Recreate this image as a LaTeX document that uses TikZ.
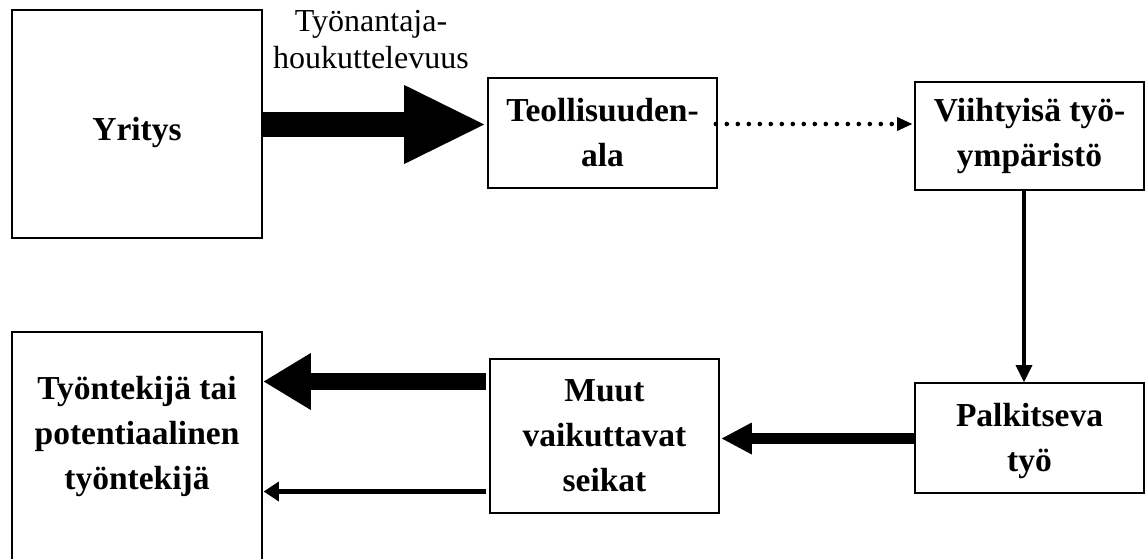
\documentclass[tikz,border=0pt]{standalone}
\usepackage{fontspec}
\setmainfont{Liberation Serif}
\usetikzlibrary{arrows.meta}
\begin{document}
\begin{tikzpicture}[x=1pt,y=-1pt,
  box/.style={draw, line width=1.6pt, align=center, inner sep=0pt,
    font=\bfseries\fontsize{33.5}{45}\selectfont},
  boxtext/.style={align=center, inner sep=0pt, font=\bfseries\fontsize{33.5}{45}\selectfont},
  lbl/.style={align=center, inner sep=0pt, font=\fontsize{32}{37}\selectfont},
  tip/.style n args={2}{-{Triangle[length=#1pt,width=#2pt,line width=0pt]}}
]
\useasboundingbox (0,0) rectangle (1148,559);

% boxes
\node[box, minimum width=250, minimum height=228] (yr) at (137,124) {};
\node[boxtext] (yrt) at (137,132) {Yritys};
\node[box, minimum width=229, minimum height=110] (teo) at (602.5,133) {Teollisuuden-\\ala};
\node[box, minimum width=229, minimum height=108] (vi) at (1029.5,136) {Viihtyisä työ-\\ympäristö};
\node[box, minimum width=229, minimum height=110] (pa) at (1029.5,438) {};
\node[boxtext] (pat) at (1029.5,441) {Palkitseva\\työ};
\node[box, minimum width=229, minimum height=154] (mu) at (604.5,436) {Muut\\vaikuttavat\\seikat};
\node[box, minimum width=250, minimum height=230] (ty) at (137,447) {};
\node[boxtext] (tyt) at (137,436) {Työntekijä tai\\potentiaalinen\\työntekijä};

% label
\node[lbl, anchor=north] (lab) at (371,10) {Työnantaja-\\houkuttelevuus};

% helper coordinates
\coordinate (ya) at (0,124.5);
\coordinate (da) at (0,124);
\coordinate (va) at (1024,0);
\coordinate (pm) at (0,438.5);
\coordinate (mt1) at (0,381.5);
\coordinate (mt2) at (0,491.5);

% connectors
\draw[line width=25pt, tip={80}{79}, shorten >=3pt] (yr.east |- ya) -- (teo.west |- ya);
\draw[line width=4.6pt, line cap=round, dash pattern=on 0pt off 11pt, tip={15}{14}, shorten >=2pt, shorten <=-2pt]
  (teo.east |- da) -- (vi.west |- da);
\draw[line width=4.3pt, tip={17}{17}] (vi.south -| va) -- (pa.north -| va);
\draw[line width=11pt, tip={30}{32}, shorten >=2pt] (pa.west |- pm) -- (mu.east |- pm);
\draw[line width=17pt, tip={47}{57}, shorten >=1pt, shorten <=3pt] (mu.west |- mt1) -- (ty.east |- mt1);
\draw[line width=5.5pt, tip={15}{20}, shorten >=1pt, shorten <=3pt] (mu.west |- mt2) -- (ty.east |- mt2);
\end{tikzpicture}
\end{document}
